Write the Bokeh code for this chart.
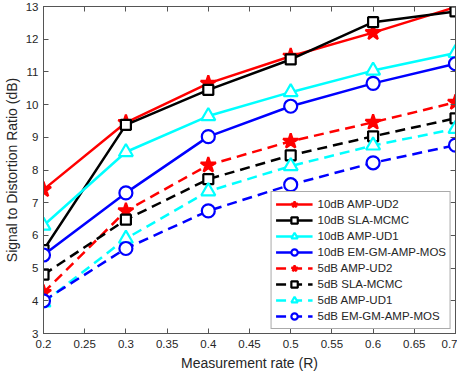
from bokeh.plotting import figure
from bokeh.models import Range1d, FixedTicker, LinearAxis, Legend
from bokeh.embed import file_html
from bokeh.resources import INLINE

rates = [0.2, 0.3, 0.4, 0.5, 0.6, 0.7]

amp_ud2_10 = [7.4, 9.45, 10.65, 11.48, 12.2, 12.98]
sla_mcmc_10 = [5.55, 9.38, 10.45, 11.38, 12.52, 12.85]
amp_ud1_10 = [6.3, 8.55, 9.65, 10.38, 11.04, 11.58]
emgm_10 = [5.4, 7.3, 9.02, 9.95, 10.65, 11.25]
amp_ud2_5 = [4.25, 6.75, 8.15, 8.88, 9.46, 10.07]
sla_mcmc_5 = [4.8, 6.48, 7.72, 8.45, 9.03, 9.58]
amp_ud1_5 = [3.95, 5.9, 7.35, 8.12, 8.75, 9.26]
emgm_5 = [4.0, 5.6, 6.75, 7.55, 8.22, 8.76]

x_ticks = [0.2, 0.25, 0.3, 0.35, 0.4, 0.45, 0.5, 0.55, 0.6, 0.65, 0.7]
x_tick_labels = ["0.2", "0.25", "0.3", "0.35", "0.4", "0.45", "0.5", "0.55", "0.6", "0.65", "0.7"]
y_ticks = [3, 4, 5, 6, 7, 8, 9, 10, 11, 12, 13]

FONT = "Liberation Sans"
TXT = "#262626"
AX = "#555555"

p = figure(frame_width=412, frame_height=327, output_backend="svg", toolbar_location=None,
           x_range=Range1d(0.2, 0.7), y_range=Range1d(3, 13),
           min_border_left=2, min_border_right=2, min_border_top=6, min_border_bottom=2)
p.xgrid.visible = False
p.ygrid.visible = False
p.outline_line_color = AX
p.outline_line_width = 1
p.background_fill_color = "white"
p.border_fill_color = "white"

def style_axis(ax, ticks, show_labels=True):
    ax.ticker = FixedTicker(ticks=ticks)
    ax.axis_line_color = AX
    ax.major_tick_line_color = AX
    ax.major_tick_in = 5
    ax.major_tick_out = 0
    ax.minor_tick_line_color = None
    ax.major_label_text_font = FONT
    ax.major_label_text_color = TXT
    ax.major_label_text_font_size = "11.5px"
    ax.axis_label_text_font = FONT
    ax.axis_label_text_color = TXT
    ax.axis_label_text_font_size = "14px"
    ax.axis_label_text_font_style = "normal"
    if not show_labels:
        ax.major_label_overrides = {t: "" for t in ticks}
        ax.major_label_standoff = 0

style_axis(p.xaxis[0], x_ticks)
p.xaxis[0].major_label_overrides = {t: l for t, l in zip(x_ticks, x_tick_labels)}
p.xaxis[0].axis_label = "Measurement rate (R)"
p.xaxis[0].major_label_standoff = 6
p.xaxis[0].axis_label_standoff = 4
style_axis(p.yaxis[0], y_ticks)
p.yaxis[0].axis_label = "Signal to Distortion Ratio (dB)"
p.yaxis[0].major_label_standoff = 5
p.yaxis[0].axis_label_standoff = 3

top_ax = LinearAxis()
style_axis(top_ax, x_ticks, show_labels=False)
p.add_layout(top_ax, "above")
right_ax = LinearAxis()
style_axis(right_ax, y_ticks, show_labels=False)
p.add_layout(right_ax, "right")

series = [
    ("10dB AMP-UD2", amp_ud2_10, "#ff0000", "solid", "star", 16, True),
    ("10dB SLA-MCMC", sla_mcmc_10, "#000000", "solid", "square", 10, False),
    ("10dB AMP-UD1", amp_ud1_10, "#00ffff", "solid", "triangle", 14, False),
    ("10dB EM-GM-AMP-MOS", emgm_10, "#0000ff", "solid", "circle", 13, False),
    ("5dB AMP-UD2", amp_ud2_5, "#ff0000", "10 6", "star", 16, True),
    ("5dB SLA-MCMC", sla_mcmc_5, "#000000", "10 6", "square", 10, False),
    ("5dB AMP-UD1", amp_ud1_5, "#00ffff", "10 6", "triangle", 14, False),
    ("5dB EM-GM-AMP-MOS", emgm_5, "#0000ff", "10 6", "circle", 13, False),
]

items = []
for label, ys, color, dash, marker, size, filled in series:
    r1 = p.line(rates, ys, line_color=color, line_width=2.5, line_dash=dash)
    r2 = p.scatter(rates, ys, marker=marker, size=size, line_color=color, line_width=2.2,
                   fill_color=color if filled else "white")
    items.append((label, [r1, r2]))

legend = Legend(items=items, location="bottom_right")
legend.label_text_font = FONT
legend.label_text_font_size = "11.5px"
legend.label_text_color = TXT
legend.glyph_width = 37
legend.glyph_height = 16
legend.label_height = 16
legend.spacing = 0
legend.padding = 4
legend.margin = 4
legend.label_standoff = 5
legend.border_line_color = AX
legend.border_line_width = 1
legend.background_fill_color = "white"
legend.background_fill_alpha = 1
p.add_layout(legend, "center")

open("out.html", "w").write(file_html(p, INLINE))
